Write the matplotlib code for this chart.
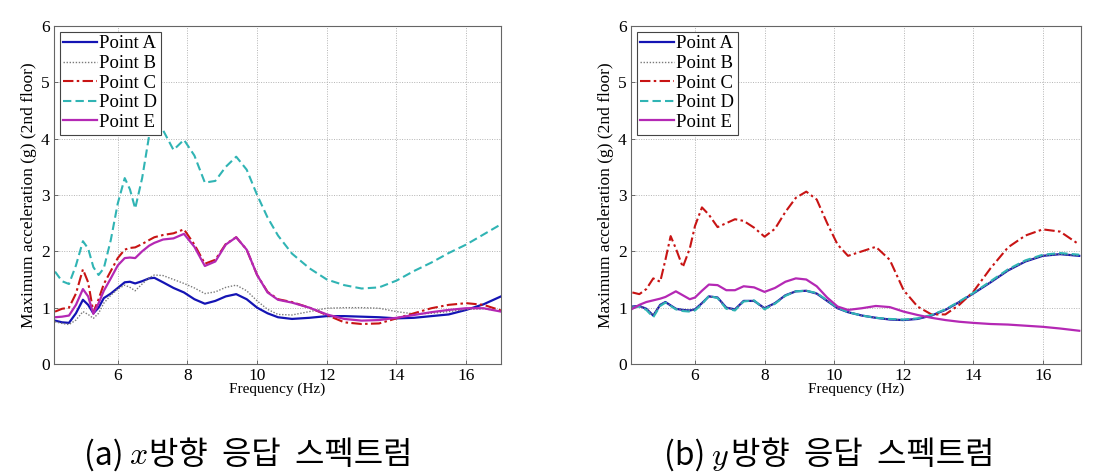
import numpy as np
import matplotlib
matplotlib.use("Agg")
import matplotlib.pyplot as plt

# ---- data ----
freq_x = [4.2, 4.4, 4.6, 4.8, 5.0, 5.15, 5.3, 5.45, 5.6, 5.8, 6.0, 6.2, 6.35, 6.5, 6.7,
          6.9, 7.05, 7.3, 7.6, 7.9, 8.2, 8.5, 8.8, 9.1, 9.4, 9.7, 10.0, 10.3, 10.6, 11.0, 11.5,
          12.0, 12.5, 13.0, 13.5, 14.0, 14.5, 15.0, 15.5, 16.0, 16.5, 17.0]

x_point_a = [0.77, 0.74, 0.73, 0.90, 1.14, 1.05, 0.90, 1.00, 1.17, 1.25, 1.35, 1.45, 1.46, 1.43, 1.47,
             1.52, 1.53, 1.45, 1.35, 1.27, 1.15, 1.07, 1.12, 1.20, 1.24, 1.15, 1.00, 0.90, 0.83, 0.80, 0.82,
             0.85, 0.85, 0.84, 0.83, 0.81, 0.82, 0.85, 0.88, 0.96, 1.06, 1.20]
x_point_b = [0.75, 0.72, 0.70, 0.78, 0.93, 0.88, 0.81, 0.90, 1.08, 1.22, 1.33, 1.40, 1.36, 1.30, 1.42,
             1.53, 1.58, 1.57, 1.50, 1.43, 1.35, 1.25, 1.28, 1.36, 1.40, 1.30, 1.12, 0.97, 0.88, 0.87, 0.93,
             0.99, 1.00, 1.00, 0.99, 0.93, 0.89, 0.90, 0.93, 0.97, 0.98, 0.94]
x_point_c = [0.93, 0.98, 1.00, 1.25, 1.68, 1.45, 0.92, 1.15, 1.42, 1.65, 1.88, 2.03, 2.06, 2.07, 2.13,
             2.20, 2.25, 2.29, 2.32, 2.39, 2.12, 1.78, 1.85, 2.13, 2.25, 2.03, 1.58, 1.28, 1.15, 1.10, 1.00,
             0.87, 0.74, 0.71, 0.72, 0.81, 0.90, 0.99, 1.05, 1.08, 1.05, 0.95]
x_point_d = [1.64, 1.47, 1.42, 1.75, 2.18, 2.05, 1.72, 1.58, 1.70, 2.20, 2.85, 3.30, 3.10, 2.76, 3.30,
             4.05, 4.30, 4.15, 3.80, 3.98, 3.70, 3.22, 3.25, 3.50, 3.68, 3.45, 3.00, 2.60, 2.28, 1.96, 1.70,
             1.50, 1.40, 1.34, 1.36, 1.48, 1.65, 1.80, 1.97, 2.12, 2.30, 2.48]
x_point_e = [0.83, 0.84, 0.86, 1.05, 1.33, 1.20, 0.89, 1.08, 1.30, 1.52, 1.75, 1.88, 1.89, 1.88, 2.00,
             2.10, 2.15, 2.21, 2.23, 2.31, 2.08, 1.74, 1.82, 2.12, 2.25, 2.03, 1.58, 1.27, 1.14, 1.09, 1.00,
             0.88, 0.80, 0.77, 0.78, 0.82, 0.87, 0.92, 0.96, 0.99, 0.99, 0.93]

freq_y = [4.2, 4.4, 4.6, 4.8, 5.0, 5.15, 5.3, 5.45, 5.65, 5.85, 6.0, 6.2, 6.4, 6.65, 6.9,
          7.15, 7.4, 7.7, 8.0, 8.3, 8.6, 8.9, 9.2, 9.5, 9.8, 10.1, 10.4, 10.8, 11.2, 11.6,
          12.0, 12.4, 12.8, 13.2, 13.6, 14.0, 14.5, 15.0, 15.5, 16.0, 16.5, 17.05]

y_point_a = [1.02, 1.03, 0.98, 0.86, 1.05, 1.10, 1.04, 0.98, 0.96, 0.95, 0.97, 1.08, 1.20, 1.18, 1.00,
             0.97, 1.12, 1.12, 0.99, 1.08, 1.22, 1.29, 1.30, 1.25, 1.12, 0.99, 0.92, 0.86, 0.82, 0.79,
             0.78, 0.80, 0.86, 0.96, 1.10, 1.25, 1.45, 1.66, 1.82, 1.92, 1.95, 1.92]
y_point_b = [1.02, 1.03, 0.98, 0.87, 1.05, 1.10, 1.04, 0.98, 0.96, 0.95, 0.97, 1.08, 1.20, 1.18, 1.00,
             0.97, 1.12, 1.12, 0.99, 1.08, 1.22, 1.29, 1.30, 1.25, 1.12, 0.99, 0.92, 0.86, 0.82, 0.79,
             0.78, 0.80, 0.86, 0.96, 1.10, 1.25, 1.45, 1.66, 1.82, 1.92, 1.95, 1.92]
y_point_c = [1.27, 1.24, 1.33, 1.52, 1.46, 1.85, 2.27, 2.05, 1.72, 2.05, 2.45, 2.78, 2.65, 2.43, 2.50,
             2.57, 2.54, 2.42, 2.26, 2.40, 2.70, 2.95, 3.06, 2.92, 2.50, 2.12, 1.92, 2.00, 2.08, 1.85,
             1.31, 1.02, 0.88, 0.88, 1.05, 1.28, 1.70, 2.07, 2.28, 2.39, 2.35, 2.12]
y_point_d = [1.00, 1.02, 0.96, 0.83, 1.03, 1.09, 1.03, 0.97, 0.94, 0.93, 0.95, 1.06, 1.21, 1.17, 0.98,
             0.95, 1.11, 1.13, 0.97, 1.07, 1.21, 1.29, 1.30, 1.26, 1.13, 1.00, 0.92, 0.86, 0.82, 0.80,
             0.79, 0.81, 0.87, 0.97, 1.11, 1.26, 1.47, 1.68, 1.84, 1.94, 1.97, 1.94]
y_point_e = [0.98, 1.05, 1.10, 1.13, 1.16, 1.19, 1.24, 1.29, 1.22, 1.15, 1.18, 1.30, 1.41, 1.40, 1.31,
             1.31, 1.38, 1.36, 1.28, 1.35, 1.46, 1.52, 1.50, 1.38, 1.18, 1.02, 0.96, 0.99, 1.03, 1.01,
             0.93, 0.87, 0.82, 0.78, 0.75, 0.73, 0.71, 0.70, 0.68, 0.66, 0.63, 0.59]

point_labels = ["Point A", "Point B", "Point C", "Point D", "Point E"]
x_ticks = [6, 8, 10, 12, 14, 16]
y_ticks = [0, 1, 2, 3, 4, 5, 6]

# ---- styles ----
styles = [
    dict(color="#1414b4", linestyle="-", linewidth=1.6),
    dict(color="#7a7a7a", linestyle=(0, (1, 1.2)), linewidth=1.0),
    dict(color="#c81414", linestyle=(0, (5, 1.6, 1.2, 1.6)), linewidth=1.5),
    dict(color="#30b4b4", linestyle=(0, (4, 2)), linewidth=1.5),
    dict(color="#b428b4", linestyle="-", linewidth=1.6),
]

plt.rcParams.update({
    "font.family": "Liberation Serif",
    "font.size": 12,
    "mathtext.fontset": "cm",
})


def draw_panel(ax, freq, series, xlim):
    for vals, lab, st in zip(series, point_labels, styles):
        ax.plot(freq, vals, label=lab, **st)
    ax.set_xlim(*xlim)
    ax.set_ylim(0, 6)
    ax.set_xticks(x_ticks)
    ax.set_yticks(y_ticks)
    ax.set_axisbelow(True)
    ax.grid(True, linestyle=(0, (1, 1.5)), linewidth=0.7, color="#b4b4b4")
    ax.tick_params(direction="in", length=3, width=0.6, colors="#555555",
                   labelcolor="black", labelsize=12.5, pad=3)
    for sp in ax.spines.values():
        sp.set_color("#666666")
        sp.set_linewidth(0.8)
    ax.set_xlabel("Frequency (Hz)", fontsize=11, labelpad=-1)
    ax.set_ylabel("Maximum acceleration (g) (2nd floor)", fontsize=12.5, labelpad=3)
    leg = ax.legend(loc="upper left", fontsize=13.5, labelspacing=0.13, handlelength=1.8,
                    handletextpad=0.1, borderpad=0.2, borderaxespad=0.3, fancybox=False,
                    framealpha=1)
    leg.get_frame().set_edgecolor("#444444")
    leg.get_frame().set_linewidth(0.8)


fig = plt.figure(figsize=(10.96, 4.74), dpi=100)
ax1 = fig.add_axes([54 / 1096, 110 / 474, 447 / 1096, 338 / 474])
ax2 = fig.add_axes([631 / 1096, 110 / 474, 450 / 1096, 338 / 474])

draw_panel(ax1, freq_x, [x_point_a, x_point_b, x_point_c, x_point_d, x_point_e], (4.17, 17.0))
draw_panel(ax2, freq_y, [y_point_a, y_point_b, y_point_c, y_point_d, y_point_e], (4.16, 17.1))

# captions
cap_kw = dict(fontsize=23, va="center", family=["Noto Sans CJK KR", "DejaVu Sans"])
cy = 1 - 455 / 474
fig.text(84 / 1096, cy, "(a)", ha="left", **cap_kw)
fig.text(129 / 1096, cy - 0.004, "$x$", ha="left", fontsize=23, va="center")
fig.text(149 / 1096, cy, "방향  응답  스펙트럼", ha="left", **cap_kw)
fig.text(664 / 1096, cy, "(b)", ha="left", **cap_kw)
fig.text(711 / 1096, cy - 0.008, "$y$", ha="left", fontsize=23, va="center")
fig.text(731 / 1096, cy, "방향  응답  스펙트럼", ha="left", **cap_kw)

fig.savefig("out.png", dpi=100)
